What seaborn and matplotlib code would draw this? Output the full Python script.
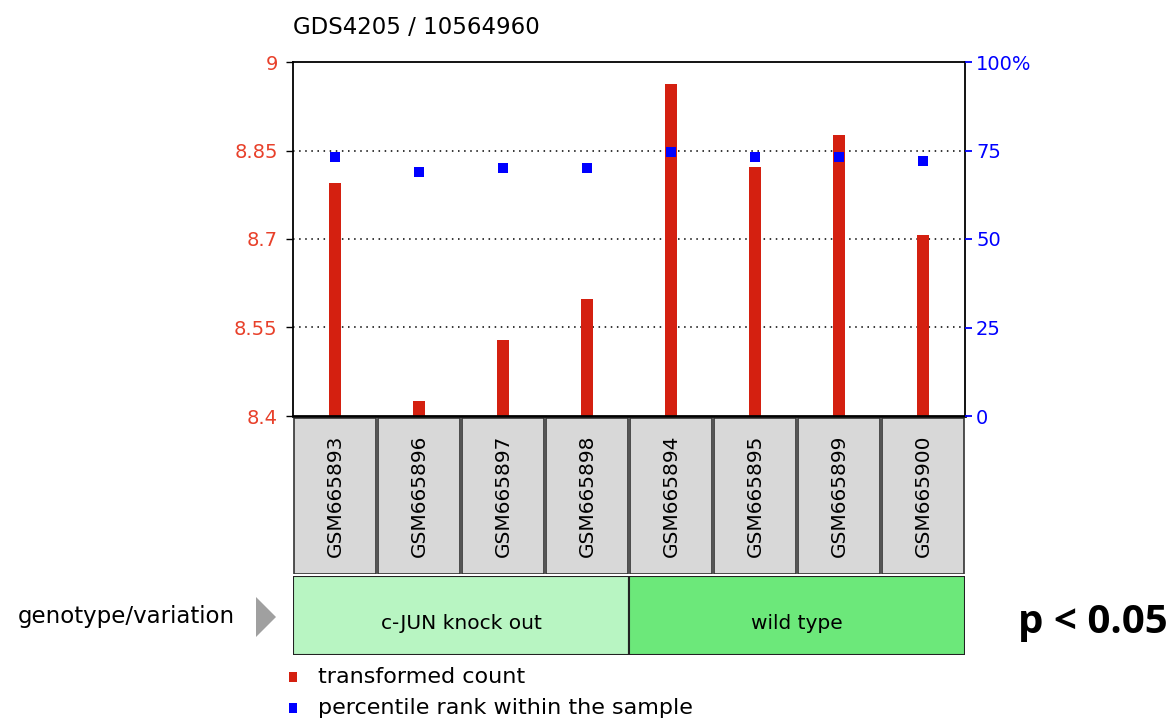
import numpy as np
import pandas as pd
import matplotlib
matplotlib.use('Agg')
import matplotlib.pyplot as plt
from matplotlib.patches import Rectangle, Polygon
import seaborn as sns

# values
samples = ['GSM665893', 'GSM665896', 'GSM665897', 'GSM665898',
           'GSM665894', 'GSM665895', 'GSM665899', 'GSM665900']
counts = [8.795, 8.426, 8.529, 8.599, 8.963, 8.822, 8.877, 8.706]
percentiles = [73.2, 69.0, 70.1, 70.1, 74.5, 73.2, 73.2, 72.0]
groups = ['c-JUN knock out', 'wild type']
group_sizes = [4, 4]
group_colors = ['#b8f5c2', '#6ce87a']
left_ticks = [8.4, 8.55, 8.7, 8.85, 9]
left_labels = ['8.4', '8.55', '8.7', '8.85', '9']
right_ticks = [0, 25, 50, 75, 100]
right_labels = ['0', '25', '50', '75', '100%']

df = pd.DataFrame({'sample': samples, 'count': counts, 'pct': percentiles})

sns.set_style('white')
plt.rcParams['font.family'] = ['DejaVu Sans']
plt.rcParams['text.color'] = 'black'

W, H = 1176, 722
fig = plt.figure(figsize=(W / 100, H / 100), dpi=100)

def box(x0, y0, x1, y1):
    # pixel box (top-left origin) -> figure fraction
    return [x0 / W, 1 - y1 / H, (x1 - x0) / W, (y1 - y0) / H]

red = '#d42010'
blue = '#0000ff'

ax = fig.add_axes(box(293, 62, 965, 416))
sns.barplot(data=df, x='sample', y='count', order=samples, color=red,
            width=0.14, saturation=1, ax=ax, linewidth=0)
ax.set_ylim(8.4, 9)
ax.set_xlim(-0.5, len(samples) - 0.5)
ax.set_yticks(left_ticks)
ax.set_yticklabels(left_labels, color='#e8402a', fontsize=14)
ax.set_xticks(range(len(samples)))
ax.set_xticklabels([])
ax.tick_params(axis='x', direction='in', length=4, width=1, color='black', bottom=True)
ax.tick_params(axis='y', direction='out', length=5, width=1, color='black', left=True, pad=6)
ax.set_xlabel('')
ax.set_ylabel('')
for v in left_ticks[1:-1]:
    ax.axhline(v, color='black', linestyle=(0, (1, 3)), lw=1.1, zorder=0)
for s in ax.spines.values():
    s.set_color('black')
    s.set_linewidth(1.3)
ax.spines['bottom'].set_linewidth(2)

ax2 = ax.twinx()
sns.scatterplot(data=df, x='sample', y='pct', marker='s', color=blue,
                s=55, linewidth=0, ax=ax2, zorder=5)
ax2.set_ylim(0, 100)
ax2.set_xlim(-0.5, len(samples) - 0.5)
ax2.set_yticks(right_ticks)
ax2.set_yticklabels(right_labels, color=blue, fontsize=14)
ax2.tick_params(axis='y', direction='out', length=5, width=1.3, color=blue, right=True, pad=3)
ax2.set_ylabel('')
for s in ax2.spines.values():
    s.set_visible(False)

fig.text(293 / W, 1 - 28 / H, 'GDS4205 / 10564960', fontsize=16.5, va='center', ha='left',
         color='black')

# sample label boxes
axs = fig.add_axes(box(293, 418, 965, 574))
axs.set_xlim(-0.5, len(samples) - 0.5)
axs.set_ylim(0, 1)
axs.axis('off')
for i, name in enumerate(samples):
    axs.add_patch(Rectangle((i - 0.49, 0.0), 0.98, 1.0, facecolor='#d8d8d8',
                            edgecolor='#333333', lw=1.2))
    axs.text(i, 0.5, name, rotation=90, ha='center', va='center', fontsize=14.5,
             color='black')

# group boxes
axg = fig.add_axes(box(293, 576, 965, 655))
axg.set_xlim(-0.5, len(samples) - 0.5)
axg.set_ylim(0, 1)
axg.axis('off')
start = -0.5
for g, n, c in zip(groups, group_sizes, group_colors):
    axg.add_patch(Rectangle((start, 0), n, 1, facecolor=c, edgecolor='#222222', lw=1.5))
    axg.text(start + n / 2, 0.4, g, ha='center', va='center', fontsize=14.5, color='black')
    start += n

fig.text(18 / W, 1 - 617 / H, 'genotype/variation', fontsize=16.5, va='center', ha='left',
         color='black')
fig.patches.append(Polygon([[256 / W, 1 - 597 / H], [256 / W, 1 - 637 / H], [276 / W, 1 - 617 / H]],
                           closed=True, transform=fig.transFigure, facecolor='#a0a0a0',
                           edgecolor='none'))

fig.text(1168 / W, 1 - 622 / H, 'p < 0.05', fontsize=29, fontweight='bold', va='center',
         ha='right', family=['Open Sans', 'DejaVu Sans'], color='black')

# legend
fig.patches.append(Rectangle((289 / W, 1 - 682 / H), 8 / W, 10 / H, transform=fig.transFigure,
                             facecolor=red, edgecolor='none'))
fig.text(318 / W, 1 - 677 / H, 'transformed count', fontsize=16, va='center', ha='left',
         color='black')
fig.patches.append(Rectangle((289 / W, 1 - 713 / H), 8 / W, 10 / H, transform=fig.transFigure,
                             facecolor=blue, edgecolor='none'))
fig.text(318 / W, 1 - 708 / H, 'percentile rank within the sample', fontsize=16, va='center',
         ha='left', color='black')

fig.savefig('out.png', dpi=100)
